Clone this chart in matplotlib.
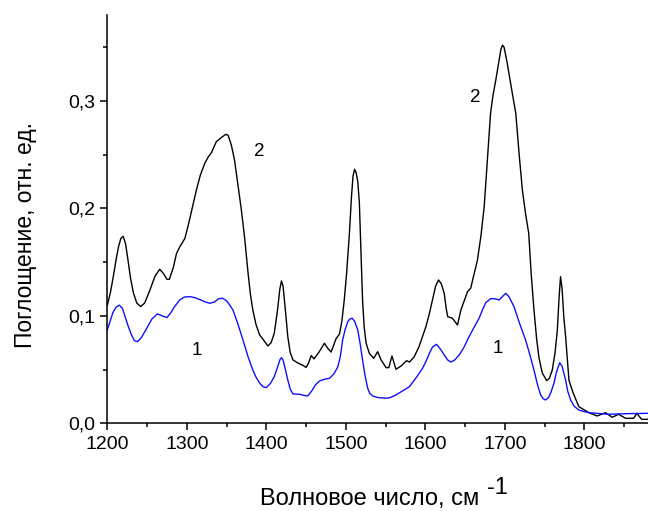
import matplotlib
matplotlib.use('Agg')
import matplotlib.pyplot as plt
from matplotlib.ticker import MultipleLocator, FuncFormatter

plt.rcParams['font.family'] = ['Liberation Sans', 'DejaVu Sans']

# curve 2 (black)
x2 = [1200, 1204, 1207.5, 1211, 1214, 1217, 1220, 1223, 1226, 1229, 1232.6, 1237, 1242, 1247,
      1253.6, 1260, 1266, 1271, 1275, 1278, 1283, 1287, 1291, 1297.5, 1302, 1307, 1312, 1317,
      1322.6, 1327, 1331, 1337, 1343.5, 1349, 1352, 1356, 1360, 1364, 1368.6, 1372.8, 1377,
      1380, 1383, 1387, 1391.6, 1396, 1402, 1406, 1410, 1414, 1417, 1419, 1421, 1424, 1427,
      1430, 1433.5, 1440, 1446, 1450, 1453, 1456.5, 1460, 1466, 1473, 1477, 1481.5, 1487.8,
      1492, 1495, 1498, 1501, 1504.5, 1507, 1509, 1511, 1513, 1515, 1517, 1519, 1521, 1523,
      1525.5, 1529.6, 1535, 1540, 1544.3, 1550.6, 1554, 1558, 1563, 1569.4, 1576.4, 1580,
      1586, 1592, 1596, 1600.7, 1605, 1609, 1613, 1616.6, 1620, 1623.7, 1626, 1628, 1634,
      1640.4, 1644.7, 1653, 1657, 1665.5, 1670, 1674, 1678, 1682, 1685, 1688.6, 1692, 1695,
      1697, 1699, 1703, 1708, 1713.7, 1718, 1722, 1726, 1730, 1733, 1736.6, 1740, 1743, 1747,
      1752.6, 1756, 1759.6, 1763, 1766, 1768, 1770, 1772, 1774, 1776.4, 1778.5, 1780.6, 1786,
      1793, 1805.6, 1816, 1826.6, 1835, 1843, 1851.7, 1862, 1866, 1872, 1880]
y2 = [0.110, 0.122, 0.1365, 0.152, 0.164, 0.172, 0.174, 0.167, 0.152, 0.136, 0.122, 0.112,
      0.1086, 0.112, 0.124, 0.137, 0.1434, 0.139, 0.134, 0.134, 0.145, 0.158, 0.164, 0.172,
      0.185, 0.201, 0.217, 0.231, 0.242, 0.248, 0.252, 0.262, 0.266, 0.269, 0.268, 0.259,
      0.245, 0.2235, 0.1986, 0.172, 0.140, 0.120, 0.1055, 0.092, 0.0822, 0.078, 0.072, 0.075,
      0.0838, 0.105, 0.125, 0.1325, 0.128, 0.105, 0.0806, 0.066, 0.059, 0.056, 0.054, 0.052,
      0.056, 0.063, 0.060, 0.066, 0.0745, 0.070, 0.0663, 0.079, 0.083, 0.095, 0.1148, 0.140,
      0.177, 0.210, 0.230, 0.2365, 0.233, 0.225, 0.205, 0.160, 0.115, 0.090, 0.0745, 0.065,
      0.0605, 0.0667, 0.059, 0.0518, 0.0518, 0.0627, 0.0503, 0.0533, 0.0583, 0.057, 0.062,
      0.0713, 0.080, 0.090, 0.102, 0.1148, 0.128, 0.1334, 0.130, 0.121, 0.108, 0.0993, 0.0978,
      0.0915, 0.1055, 0.1225, 0.1257, 0.152, 0.175, 0.2017, 0.245, 0.2886, 0.305, 0.3196,
      0.335, 0.348, 0.352, 0.350, 0.335, 0.313, 0.2886, 0.250, 0.2172, 0.195, 0.1769, 0.140,
      0.1055, 0.078, 0.0605, 0.047, 0.0397, 0.042, 0.0496, 0.065, 0.0869, 0.115, 0.1365, 0.125,
      0.100, 0.0806, 0.060, 0.040, 0.028, 0.0155, 0.0099, 0.0068, 0.0099, 0.0056, 0.0084,
      0.0047, 0.0047, 0.0093, 0.0037, 0.0037]

# curve 1 (blue)
x1 = [1200, 1204, 1207, 1211, 1215, 1219, 1222, 1226, 1230, 1234, 1238, 1243, 1250, 1256,
      1263, 1269, 1275, 1280, 1284, 1291, 1297, 1304, 1310, 1317, 1323, 1329, 1335, 1340,
      1345, 1350, 1354, 1358, 1364, 1370.6, 1377, 1383, 1387, 1392, 1396, 1400, 1405, 1410,
      1414, 1417, 1419, 1421, 1424, 1427, 1430, 1433.5, 1442, 1447, 1452, 1457, 1462, 1467,
      1473, 1479.4, 1485, 1490, 1493, 1496, 1499, 1502.4, 1505, 1508, 1511, 1515, 1518, 1521,
      1524, 1527.5, 1530, 1533.7, 1540, 1550.6, 1556, 1563, 1571, 1579.8, 1588, 1596.5, 1601,
      1605, 1609, 1614, 1619, 1623.7, 1628, 1632, 1637, 1642.5, 1648, 1655, 1661, 1667.6,
      1672, 1676, 1682, 1687, 1692.7, 1697, 1701, 1705, 1711.5, 1718, 1726, 1731, 1736.6,
      1741, 1745, 1748, 1751, 1755, 1758, 1761.7, 1765, 1769, 1772, 1776.4, 1779, 1782.7,
      1787, 1793, 1799, 1805.6, 1830, 1855, 1880]
y1 = [0.0869, 0.096, 0.103, 0.108, 0.110, 0.107, 0.100, 0.091, 0.083, 0.077, 0.076, 0.080,
      0.089, 0.097, 0.1018, 0.100, 0.0984, 0.103, 0.108, 0.1148, 0.1175, 0.1179, 0.117, 0.115,
      0.113, 0.1117, 0.113, 0.116, 0.1164, 0.114, 0.110, 0.1055, 0.093, 0.0776, 0.062, 0.0496,
      0.043, 0.037, 0.034, 0.0332, 0.037, 0.0434, 0.052, 0.059, 0.0611, 0.059, 0.050, 0.0403,
      0.032, 0.0273, 0.027, 0.026, 0.0254, 0.030, 0.036, 0.0394, 0.041, 0.0419, 0.046, 0.0527,
      0.062, 0.0776, 0.087, 0.0946, 0.097, 0.0978, 0.095, 0.0869, 0.074, 0.059, 0.045, 0.0326,
      0.028, 0.0254, 0.024, 0.0233, 0.024, 0.0264, 0.030, 0.034, 0.042, 0.0512, 0.058, 0.065,
      0.071, 0.0735, 0.069, 0.0636, 0.059, 0.057, 0.059, 0.0636, 0.070, 0.0806, 0.089, 0.0978,
      0.106, 0.1123, 0.116, 0.116, 0.1148, 0.118, 0.121, 0.118, 0.1086, 0.094, 0.0776, 0.065,
      0.0496, 0.036, 0.0264, 0.023, 0.0217, 0.024, 0.029, 0.0372, 0.048, 0.0564, 0.053, 0.0403,
      0.030, 0.0217, 0.016, 0.0124, 0.011, 0.0099, 0.0084, 0.009, 0.0093]

labels = ['1', '2', '1', '2']
label_x = [1312.5, 1391.6, 1691.5, 1662.6]
label_y = [0.068, 0.2527, 0.070, 0.3029]

fig = plt.figure(figsize=(6.48, 5.11), dpi=100)
ax = fig.add_axes([0.1656, 0.1716, 0.8344, 0.7990])

ax.plot(x2, y2, color='black', lw=1.0)
ax.plot(x1, y1, color='#1010ff', lw=1.0)

for t, lx, ly in zip(labels, label_x, label_y):
    ax.text(lx, ly, t, fontsize=13.5, ha='center', va='center')

ax.set_xlim(1200, 1880)
ax.set_ylim(0, 0.38)
ax.spines['top'].set_visible(False)
ax.spines['right'].set_visible(False)
ax.spines['left'].set_linewidth(1.1)
ax.spines['bottom'].set_linewidth(1.1)

ax.xaxis.set_major_locator(MultipleLocator(100))
ax.xaxis.set_minor_locator(MultipleLocator(50))
ax.yaxis.set_major_locator(MultipleLocator(0.1))
ax.yaxis.set_minor_locator(MultipleLocator(0.05))
ax.yaxis.set_major_formatter(FuncFormatter(lambda v, p: ('%.1f' % v).replace('.', ',')))
ax.tick_params(which='major', length=5, width=1.1, labelsize=14, pad=4)
ax.tick_params(which='minor', length=3, width=1.1)

fig.text(370 / 648, 6 / 511, 'Волновое число, см', fontsize=17, ha='center', va='baseline')
fig.text(487 / 648, 17 / 511, '-1', fontsize=17, ha='left', va='baseline')
fig.text(32 / 648, (511 - 235.5) / 511, 'Поглощение, отн. ед.', fontsize=16.5,
         rotation=90, rotation_mode='anchor', ha='center', va='baseline')

fig.savefig('out.png', dpi=100)
